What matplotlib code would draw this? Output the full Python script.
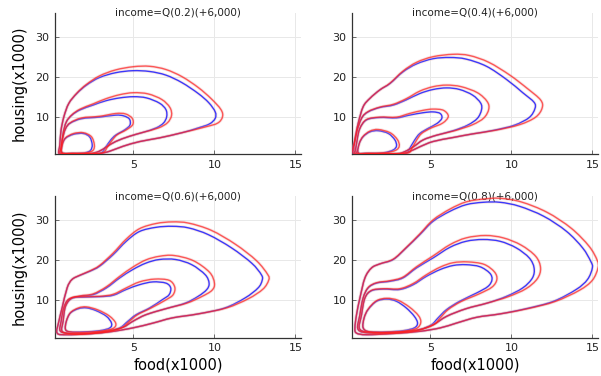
import numpy as np
import matplotlib
matplotlib.use("Agg")
import matplotlib.pyplot as plt
from matplotlib.path import Path
from matplotlib.patches import PathPatch

# ---------------- data (units x1000) ----------------
TITLES = ["income=Q(0.2)(+6,000)", "income=Q(0.4)(+6,000)",
          "income=Q(0.6)(+6,000)", "income=Q(0.8)(+6,000)"]
X_TICKS = [5, 10, 15]
Y_TICKS = [10, 20, 30]
X_LABEL = "food(x1000)"
Y_LABEL = "housing(x1000)"

# Panel 1 contours (outer A -> inner D)
P1_A_BLUE = [(0.39,0.8),(0.45,3.0),(0.52,6.5),(0.7,10.0),(1.0,13.3),(1.5,15.8),(2.1,17.9),(2.9,19.8),(3.9,21.0),(4.96,21.5),(6.0,21.3),(7.0,20.4),(8.0,18.5),(9.0,15.8),(9.65,13.5),(10.05,11.2),(10.05,9.6),(9.7,8.2),(9.0,7.2),(8.0,6.0),(6.6,4.7),(5.4,3.8),(4.35,2.6),(3.55,1.4),(2.9,0.8),(1.8,0.7),(0.8,0.7)]
P1_A_RED = [(0.39,0.8),(0.45,3.0),(0.52,6.5),(0.7,10.0),(1.0,13.3),(1.5,15.9),(2.1,18.1),(2.9,20.2),(3.9,21.7),(5.0,22.5),(6.0,22.6),(7.0,21.8),(8.0,20.0),(9.0,17.3),(9.8,14.5),(10.4,11.8),(10.5,10.0),(10.2,8.4),(9.4,7.4),(8.0,6.0),(6.6,4.7),(5.4,3.8),(4.35,2.6),(3.55,1.4),(2.9,0.8),(1.8,0.7),(0.8,0.7)]
P1_B_BLUE = [(0.5,0.8),(0.55,2.5),(0.65,5.8),(0.85,8.7),(1.2,10.4),(1.7,11.7),(2.5,12.9),(3.3,14.0),(4.15,14.7),(5.0,15.0),(5.8,14.7),(6.6,13.4),(7.0,11.8),(7.05,10.0),(6.85,8.4),(6.4,7.2),(5.6,6.1),(4.75,5.1),(3.9,3.8),(3.35,2.5),(2.85,1.3),(2.3,0.8),(1.4,0.75)]
P1_B_RED = [(0.5,0.8),(0.55,2.5),(0.65,5.8),(0.85,8.7),(1.2,10.5),(1.7,11.9),(2.5,13.2),(3.3,14.5),(4.15,15.5),(5.0,16.0),(5.9,15.7),(6.75,14.3),(7.25,12.3),(7.35,10.3),(7.1,8.5),(6.55,7.2),(5.6,6.1),(4.75,5.1),(3.9,3.8),(3.35,2.5),(2.85,1.3),(2.3,0.8),(1.4,0.75)]
P1_C_BLUE = [(0.55,1.0),(0.6,4.2),(0.8,7.0),(1.1,8.4),(1.8,9.5),(2.9,9.9),(3.9,10.4),(4.4,10.2),(4.75,9.4),(4.78,7.9),(4.45,6.7),(3.9,5.4),(3.6,4.2),(3.3,2.5),(3.0,1.0),(2.2,0.75),(1.2,0.8)]
P1_C_RED = [(0.55,1.0),(0.6,4.2),(0.8,7.0),(1.1,8.5),(1.8,9.7),(2.9,10.1),(3.9,10.8),(4.5,10.7),(4.92,9.6),(4.95,8.0),(4.55,6.7),(4.0,5.5),(3.7,4.2),(3.4,2.5),(3.1,1.0),(2.2,0.75),(1.2,0.8)]
P1_D_BLUE = [(0.6,1.0),(0.6,3.0),(0.8,4.6),(1.3,5.6),(1.9,5.8),(2.3,4.9),(2.45,3.0),(2.35,1.6),(2.0,1.0),(1.3,0.85)]
P1_D_RED = [(0.6,1.0),(0.6,3.0),(0.8,4.7),(1.3,5.8),(1.9,6.0),(2.4,5.0),(2.58,3.0),(2.5,1.6),(2.1,1.0),(1.3,0.85)]

# Panel 2
P2_A_BLUE = [(0.25,0.8),(0.33,4.2),(0.53,8.3),(0.84,12.5),(1.26,14.6),(1.87,16.7),(2.5,18.3),(3.3,21.2),(4.14,23.2),(5.16,24.5),(6.2,24.8),(7.2,24.4),(8.46,22.6),(9.7,19.3),(10.7,16.0),(11.4,13.6),(11.45,12.0),(11.1,9.8),(10.2,7.9),(8.9,6.6),(7.6,5.7),(6.4,4.8),(5.16,3.8),(4.35,2.5),(3.7,1.3),(3.1,0.75),(1.5,0.7)]
P2_A_RED = [(0.25,0.8),(0.33,4.2),(0.53,8.3),(0.84,12.5),(1.26,14.6),(1.87,16.7),(2.5,18.4),(3.3,21.4),(4.14,23.6),(5.16,25.0),(6.4,25.6),(7.4,25.3),(8.6,23.6),(9.9,20.4),(11.0,17.0),(11.8,14.2),(11.9,12.2),(11.5,9.9),(10.5,8.0),(9.0,6.6),(7.6,5.7),(6.4,4.8),(5.16,3.8),(4.35,2.5),(3.7,1.3),(3.1,0.75),(1.5,0.7)]
P2_B_BLUE = [(0.33,0.9),(0.43,5.8),(0.74,9.6),(1.15,11.2),(1.87,12.3),(2.7,12.9),(3.5,14.2),(4.34,15.8),(5.16,16.8),(6.0,17.2),(6.8,16.8),(7.6,15.4),(8.1,13.4),(8.15,11.7),(7.9,9.6),(7.3,7.9),(6.4,6.5),(5.4,5.4),(4.55,4.2),(3.95,2.5),(3.4,1.25),(2.9,0.75),(1.5,0.75)]
P2_B_RED = [(0.33,0.9),(0.43,5.8),(0.74,9.6),(1.15,11.3),(1.87,12.4),(2.7,13.1),(3.5,14.5),(4.34,16.4),(5.16,17.5),(6.0,17.9),(6.9,17.5),(7.9,16.0),(8.5,13.8),(8.6,11.9),(8.3,9.7),(7.6,8.0),(6.5,6.5),(5.4,5.4),(4.55,4.2),(3.95,2.5),(3.4,1.25),(2.9,0.75),(1.5,0.75)]
P2_C_BLUE = [(0.43,1.0),(0.47,4.2),(0.64,7.1),(1.05,9.2),(1.87,9.8),(2.9,9.7),(3.7,10.4),(4.55,11.0),(5.16,11.2),(5.6,10.8),(5.7,9.6),(5.4,8.3),(4.86,7.1),(4.34,5.8),(4.03,4.2),(3.72,2.1),(3.5,0.9),(2.5,0.75),(1.2,0.8)]
P2_C_RED = [(0.43,1.0),(0.47,4.2),(0.64,7.1),(1.05,9.3),(1.87,9.9),(2.9,9.9),(3.7,10.8),(4.55,11.6),(5.16,11.9),(5.8,11.6),(6.1,10.1),(5.75,8.4),(5.0,7.1),(4.45,5.8),(4.15,4.2),(3.85,2.1),(3.6,0.9),(2.5,0.75),(1.2,0.8)]
P2_D_BLUE = [(0.53,1.0),(0.6,3.3),(0.84,5.0),(1.26,6.2),(1.77,6.5),(2.4,5.8),(2.8,4.2),(2.9,2.7),(2.7,1.7),(2.1,1.0),(1.05,0.85)]
P2_D_RED = [(0.53,1.0),(0.6,3.3),(0.84,5.1),(1.26,6.4),(1.77,6.8),(2.5,6.0),(2.95,4.3),(3.07,2.7),(2.85,1.6),(2.2,1.0),(1.05,0.85)]

# Panel 3
P3_A_BLUE = [(0.28,1.8),(0.39,4.75),(0.59,8.1),(0.9,13.1),(1.2,15.2),(1.7,16.25),(2.3,17.25),(2.9,18.5),(3.74,21.4),(4.55,24.75),(5.37,27.2),(6.4,28.25),(7.4,28.5),(8.4,28.1),(9.63,26.4),(11.06,23.1),(12.3,19.3),(12.9,16.4),(12.95,15.0),(12.7,13.1),(11.9,10.6),(10.65,8.1),(9.0,6.6),(7.4,5.6),(6.2,4.3),(4.96,3.1),(3.5,2.1),(2.1,1.6),(0.9,1.4)]
P3_A_RED = [(0.28,1.8),(0.39,4.75),(0.59,8.1),(0.9,13.1),(1.2,15.2),(1.7,16.3),(2.3,17.35),(2.9,18.7),(3.74,21.8),(4.55,25.3),(5.37,27.9),(6.4,29.2),(7.4,29.6),(8.4,29.3),(9.8,27.5),(11.3,24.0),(12.6,19.9),(13.3,16.4),(13.35,15.0),(13.0,12.8),(12.1,10.4),(10.75,8.1),(9.0,6.6),(7.4,5.6),(6.2,4.3),(4.96,3.1),(3.5,2.1),(2.1,1.6),(0.9,1.4)]
P3_B_BLUE = [(0.49,2.25),(0.53,4.75),(0.69,8.1),(1.0,10.2),(1.7,11.0),(2.5,11.4),(3.33,13.1),(4.15,15.6),(4.96,17.7),(5.77,19.3),(6.6,20.2),(7.6,20.2),(8.6,18.9),(9.43,16.4),(9.67,14.3),(9.53,12.7),(9.0,11.0),(8.2,9.3),(7.0,7.9),(5.77,6.4),(4.96,4.75),(4.35,3.25),(3.5,2.4),(2.3,1.8),(1.2,1.7)]
P3_B_RED = [(0.49,2.25),(0.53,4.75),(0.69,8.1),(1.0,10.3),(1.7,11.1),(2.5,11.6),(3.33,13.4),(4.15,16.0),(4.96,18.3),(5.77,20.1),(6.6,21.0),(7.5,21.2),(8.7,19.9),(9.7,17.0),(10.0,14.3),(9.85,12.5),(9.2,10.9),(8.3,9.3),(7.0,7.9),(5.77,6.4),(4.96,4.75),(4.35,3.25),(3.5,2.4),(2.3,1.8),(1.2,1.7)]
P3_C_BLUE = [(0.59,2.25),(0.65,4.75),(0.8,8.5),(1.2,10.5),(1.9,10.8),(2.9,10.9),(3.74,11.25),(4.55,12.7),(5.37,13.9),(6.2,14.6),(7.0,14.3),(7.3,13.1),(7.2,11.4),(6.8,10.2),(6.0,8.1),(5.16,6.4),(4.65,4.75),(4.15,3.1),(3.33,2.1),(2.1,1.6),(1.2,1.6)]
P3_C_RED = [(0.59,2.25),(0.65,4.75),(0.8,8.5),(1.2,10.6),(1.9,10.9),(2.9,11.0),(3.74,11.5),(4.55,13.1),(5.37,14.6),(6.3,15.3),(7.2,15.0),(7.55,13.3),(7.45,11.4),(7.0,10.1),(6.1,8.1),(5.25,6.4),(4.75,4.75),(4.25,3.1),(3.33,2.1),(2.1,1.6),(1.2,1.6)]
P3_D_BLUE = [(0.8,2.7),(0.85,4.75),(1.1,6.8),(1.6,7.9),(2.1,8.1),(2.7,7.4),(3.33,6.0),(3.64,4.3),(3.54,3.1),(2.9,2.4),(1.9,2.1),(1.1,2.1)]
P3_D_RED = [(0.8,2.7),(0.85,4.75),(1.1,6.9),(1.6,8.1),(2.1,8.35),(2.8,7.6),(3.5,6.1),(3.9,4.3),(3.75,3.0),(3.0,2.3),(1.9,2.0),(1.1,2.1)]

# Panel 4
P4_A_BLUE = [(0.33,3.1),(0.43,6.4),(0.64,10.6),(0.95,15.6),(1.36,18.1),(1.87,19.1),(2.7,20.2),(3.5,23.1),(4.34,26.4),(5.16,29.75),(6.2,32.25),(7.2,33.9),(8.25,34.5),(9.3,34.5),(10.5,33.5),(12.0,31.0),(13.4,27.25),(14.4,23.1),(14.9,19.75),(15.0,18.1),(14.7,15.2),(14.0,12.7),(12.6,9.75),(10.9,7.9),(9.3,6.6),(7.85,5.75),(6.6,4.3),(5.6,3.1),(4.34,2.25),(2.7,1.7),(1.05,1.4),(0.43,1.8)]
P4_A_RED = [(0.33,3.1),(0.43,6.4),(0.64,10.6),(0.95,15.6),(1.36,18.1),(1.87,19.1),(2.7,20.3),(3.5,23.2),(4.34,26.6),(5.16,30.1),(6.2,32.8),(7.2,34.6),(8.25,35.3),(9.3,35.5),(10.6,34.6),(12.2,32.0),(13.7,28.0),(14.8,23.5),(15.3,20.0),(15.35,18.1),(15.0,15.0),(14.2,12.5),(12.7,9.7),(11.0,7.9),(9.3,6.6),(7.85,5.75),(6.6,4.3),(5.6,3.1),(4.34,2.25),(2.7,1.7),(1.05,1.4),(0.43,1.8)]
P4_B_BLUE = [(0.53,2.7),(0.64,6.4),(0.84,10.6),(1.15,13.1),(1.67,14.3),(2.5,14.75),(3.3,15.6),(4.14,18.1),(5.16,20.6),(6.2,23.25),(7.2,24.75),(8.25,25.2),(9.3,24.75),(10.3,23.1),(11.1,20.6),(11.4,18.1),(11.3,15.6),(10.7,13.1),(9.7,11.0),(8.5,9.3),(7.2,7.9),(6.0,6.0),(5.16,3.9),(4.14,2.4),(2.7,1.8),(1.3,1.8)]
P4_B_RED = [(0.53,2.7),(0.64,6.4),(0.84,10.6),(1.15,13.2),(1.67,14.4),(2.5,14.9),(3.3,15.8),(4.14,18.4),(5.16,21.1),(6.2,23.9),(7.2,25.6),(8.4,26.2),(9.5,25.6),(10.6,23.8),(11.5,21.0),(11.8,18.1),(11.6,15.4),(10.9,12.9),(9.8,10.9),(8.5,9.3),(7.2,7.9),(6.0,6.0),(5.16,3.9),(4.14,2.4),(2.7,1.8),(1.3,1.8)]
P4_C_BLUE = [(0.64,2.7),(0.74,6.4),(0.95,10.6),(1.36,12.4),(2.1,12.8),(3.1,12.7),(3.93,13.9),(4.75,16.0),(5.6,17.7),(6.4,18.7),(7.2,18.9),(8.05,18.4),(8.66,16.8),(8.8,15.2),(8.56,13.5),(7.84,11.8),(6.8,9.75),(6.0,7.7),(5.47,5.6),(5.06,3.9),(4.34,2.7),(3.1,2.1),(1.6,2.0)]
P4_C_RED = [(0.64,2.7),(0.74,6.4),(0.95,10.6),(1.36,12.5),(2.1,12.9),(3.1,12.9),(3.93,14.2),(4.75,16.4),(5.6,18.3),(6.4,19.4),(7.3,19.6),(8.3,19.0),(8.95,17.1),(9.1,15.2),(8.8,13.3),(8.0,11.6),(6.9,9.7),(6.1,7.7),(5.6,5.6),(5.2,3.9),(4.34,2.7),(3.1,2.1),(1.6,2.0)]
P4_D_BLUE = [(0.84,3.1),(0.9,5.6),(1.15,7.7),(1.67,9.75),(2.3,10.3),(2.9,9.75),(3.5,8.1),(4.0,6.0),(4.2,4.3),(4.0,3.1),(3.3,2.4),(2.3,2.1),(1.25,2.1)]
P4_D_RED = [(0.84,3.1),(0.9,5.6),(1.15,7.8),(1.67,9.9),(2.3,10.5),(3.0,10.0),(3.7,8.3),(4.25,6.2),(4.4,4.5),(4.15,3.0),(3.4,2.3),(2.3,2.0),(1.25,2.1)]

BLUE_SETS = [[P1_A_BLUE, P1_B_BLUE, P1_C_BLUE, P1_D_BLUE],
             [P2_A_BLUE, P2_B_BLUE, P2_C_BLUE, P2_D_BLUE],
             [P3_A_BLUE, P3_B_BLUE, P3_C_BLUE, P3_D_BLUE],
             [P4_A_BLUE, P4_B_BLUE, P4_C_BLUE, P4_D_BLUE]]
RED_SETS = [[P1_A_RED, P1_B_RED, P1_C_RED, P1_D_RED],
            [P2_A_RED, P2_B_RED, P2_C_RED, P2_D_RED],
            [P3_A_RED, P3_B_RED, P3_C_RED, P3_D_RED],
            [P4_A_RED, P4_B_RED, P4_C_RED, P4_D_RED]]


def smooth_closed_path(pts):
    """Closed Catmull-Rom curve through the given vertices, as a cubic Bezier path."""
    P = np.asarray(pts, dtype=float)
    n = len(P)
    verts = [P[0]]
    codes = [Path.MOVETO]
    for i in range(n):
        p0, p1, p2, p3 = P[i - 1], P[i], P[(i + 1) % n], P[(i + 2) % n]
        verts += [p1 + (p2 - p0) / 6.0, p2 - (p3 - p1) / 6.0, p2]
        codes += [Path.CURVE4] * 3
    return Path(verts, codes)


def draw_curve(ax, pts, color, lw, alpha, z):
    path = smooth_closed_path(pts)
    ax.add_patch(PathPatch(path, fill=False, edgecolor="#e4a8a8",
                           lw=lw + 1.2, alpha=0.3, zorder=z - 0.5,
                           joinstyle="round"))
    ax.add_patch(PathPatch(path, fill=False, edgecolor=color,
                           lw=lw, alpha=alpha, zorder=z, joinstyle="round"))


W, H = 601, 376
fig = plt.figure(figsize=(W / 100, H / 100), dpi=100)
fig.patch.set_facecolor("white")

AX_W, AX_H = 246, 141.6
LEFTS = [55, 352, 55, 352]
TOPS = [12.7, 12.7, 196.3, 196.3]

for k in range(4):
    l, t = LEFTS[k], TOPS[k]
    ax = fig.add_axes([l / W, 1 - (t + AX_H) / H, AX_W / W, AX_H / H])
    ax.set_xlim(0.15, 15.35)
    ax.set_ylim(0.6, 36.0)
    ax.set_xticks(X_TICKS)
    ax.set_yticks(Y_TICKS)
    ax.grid(True, color="#e8e8e8", lw=0.7)
    ax.set_axisbelow(True)
    for s in ("top", "right"):
        ax.spines[s].set_visible(False)
    for s in ("left", "bottom"):
        ax.spines[s].set_color("#333333")
        ax.spines[s].set_linewidth(0.9)
    ax.tick_params(direction="in", length=3, width=0.6, color="#555555",
                   labelsize=8, labelcolor="#222222", pad=4)
    for blue_pts, red_pts in zip(BLUE_SETS[k], RED_SETS[k]):
        draw_curve(ax, blue_pts, "#1a1aff", 1.0, 0.85, 3)
        draw_curve(ax, red_pts, "#ff1a1a", 1.0, 0.7, 4)
    ax.text(0.5, 1.0, TITLES[k], transform=ax.transAxes, ha="center", va="center",
            fontsize=7.5, color="#222222")
    if k in (0, 2):
        ax.set_ylabel(Y_LABEL, fontsize=10.5, labelpad=6)
    if k in (2, 3):
        ax.set_xlabel(X_LABEL, fontsize=10.5, labelpad=3)

fig.savefig("out.png", dpi=100, facecolor="white")
